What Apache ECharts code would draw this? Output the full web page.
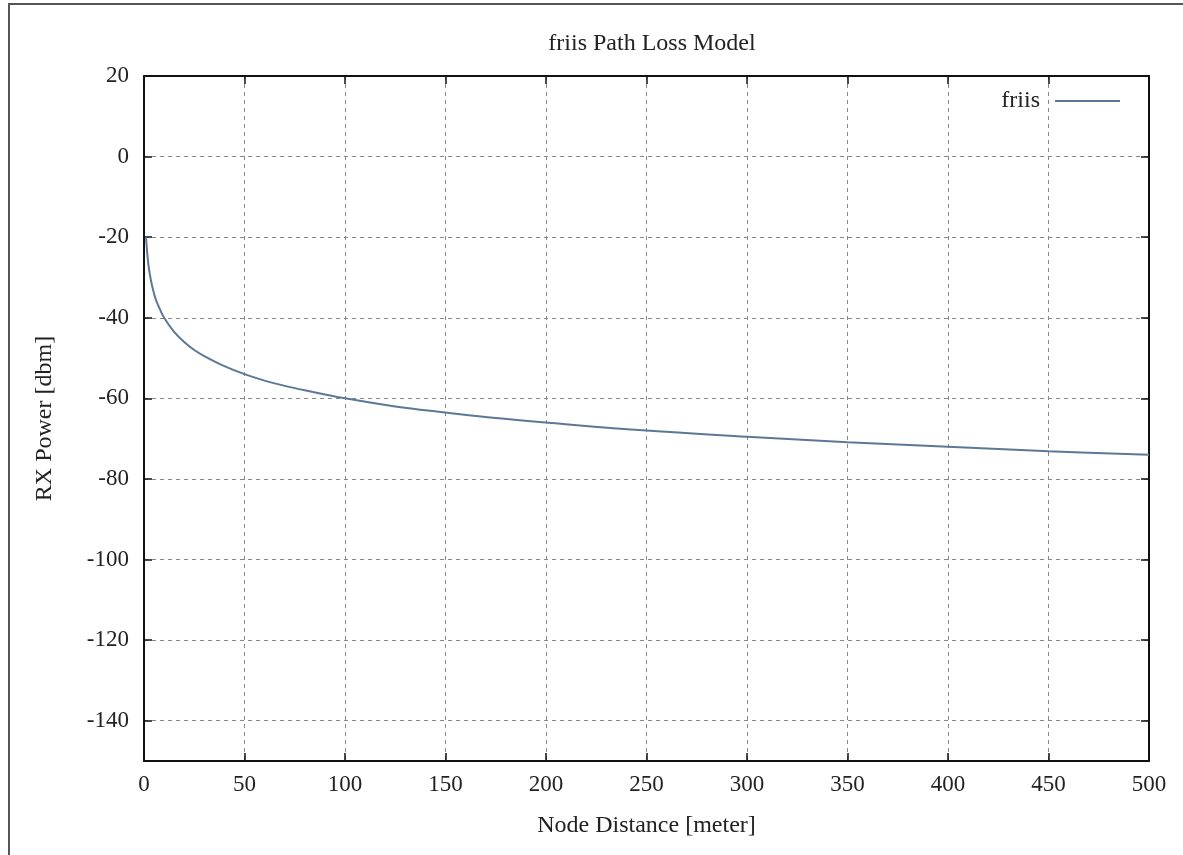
<!DOCTYPE html>
<html>
<head>
<meta charset="utf-8">
<script src="https://cdn.jsdelivr.net/npm/echarts@6/dist/echarts.min.js"></script>
<style>
html,body{margin:0;padding:0;background:#fff;}
#frame{position:absolute;left:8px;top:3px;width:1300px;height:900px;border-left:2px solid #555;border-top:2px solid #555;}
#chart{position:absolute;left:0;top:0;width:1183px;height:855px;}
</style>
</head>
<body>
<div id="frame"></div>
<div id="chart"></div>
<script>
// Node distance [meter] and read RX power [dbm]
var distances = [1, 2, 3, 4, 5, 6, 8, 10, 15, 20, 25, 30, 40, 50, 60, 70, 80, 100, 125, 150, 175, 200, 250, 300, 350, 400, 450, 500];
var rxPower = [-20, -26, -29.5, -32, -34, -35.6, -38, -40, -43.5, -46, -48, -49.5, -52, -54, -55.6, -56.9, -58, -60, -62, -63.5, -64.9, -66, -68, -69.5, -70.9, -72, -73.1, -74];
var xTicks = [0, 50, 100, 150, 200, 250, 300, 350, 400, 450, 500];
var yTicks = [20, 0, -20, -40, -60, -80, -100, -120, -140];

var data = distances.map(function (d, i) { return [d, rxPower[i]]; });
var serif = '"Liberation Serif", "DejaVu Serif", serif';

var chart = echarts.init(document.getElementById('chart'));
chart.setOption({
  backgroundColor: 'transparent',
  animation: false,
  title: {
    text: 'friis Path Loss Model',
    left: 647, top: 27, textAlign: 'center',
    textStyle: { fontFamily: serif, fontSize: 24, fontWeight: 'normal', color: '#222' }
  },
  legend: {
    right: 58, top: 84,
    itemWidth: 65, itemHeight: 14, align: 'right',
    icon: 'path://M0,6 L65,6 L65,8 L0,8 Z',
    textStyle: { fontFamily: serif, fontSize: 24, color: '#222', padding: [0, 10, 0, 0] },
    data: ['friis']
  },
  grid: { left: 144, right: 34, top: 76, bottom: 94 },
  xAxis: [{
    type: 'value', min: 0, max: 500, interval: 50,
    name: 'Node Distance [meter]', nameLocation: 'middle', nameGap: 53,
    nameTextStyle: { fontFamily: serif, fontSize: 24, color: '#222' },
    axisLine: { show: true, onZero: false, lineStyle: { color: '#111', width: 2 } },
    axisTick: { show: true, inside: true, length: 8, customValues: xTicks, lineStyle: { color: '#111', width: 1.5 } },
    axisLabel: { fontFamily: serif, fontSize: 23, color: '#222', margin: 12, customValues: xTicks },
    splitLine: { show: true, lineStyle: { color: '#888', type: [4, 4], width: 1 } }
  }, {
    type: 'value', min: 0, max: 500, interval: 50, position: 'top',
    axisLine: { show: true, onZero: false, lineStyle: { color: '#111', width: 2 } },
    axisTick: { show: true, inside: true, length: 8, customValues: xTicks, lineStyle: { color: '#111', width: 1.5 } },
    axisLabel: { show: false }, splitLine: { show: false }
  }],
  yAxis: [{
    type: 'value', min: -150, max: 20,
    name: 'RX Power [dbm]', nameLocation: 'middle', nameGap: 87, nameRotate: 90,
    nameTextStyle: { fontFamily: serif, fontSize: 24, color: '#222' },
    axisLine: { show: true, onZero: false, lineStyle: { color: '#111', width: 2 } },
    axisTick: { show: true, inside: true, length: 8, customValues: yTicks, lineStyle: { color: '#111', width: 1.5 } },
    axisLabel: { fontFamily: serif, fontSize: 23, color: '#222', margin: 15, customValues: yTicks },
    splitLine: { show: true, lineStyle: { color: '#888', type: [4, 4], width: 1 } }
  }, {
    type: 'value', min: -150, max: 20, position: 'right',
    axisLine: { show: true, onZero: false, lineStyle: { color: '#111', width: 2 } },
    axisTick: { show: true, inside: true, length: 8, customValues: yTicks, lineStyle: { color: '#111', width: 1.5 } },
    axisLabel: { show: false }, splitLine: { show: false }
  }],
  series: [{
    name: 'friis', type: 'line', smooth: 0.4, showSymbol: false,
    xAxisIndex: 0, yAxisIndex: 0,
    data: data,
    lineStyle: { color: '#5b7896', width: 2 },
    itemStyle: { color: '#5b7896' }
  }]
});
</script>
</body>
</html>
